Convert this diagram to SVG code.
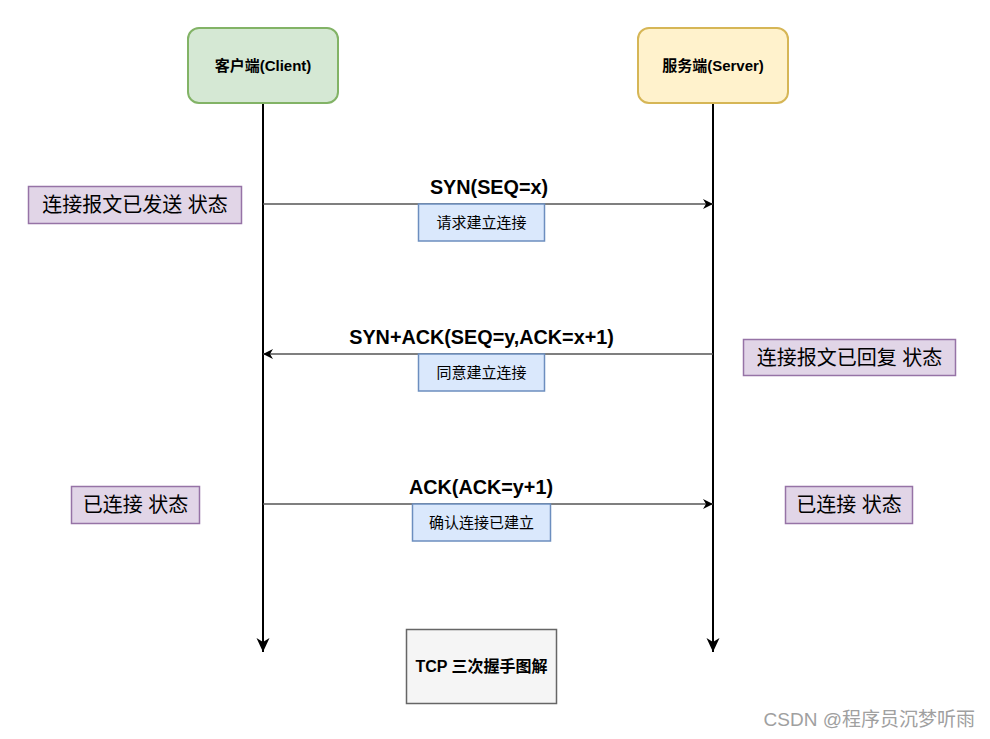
<svg xmlns="http://www.w3.org/2000/svg" width="990" height="739" viewBox="0 0 990 739">
<defs>
<marker id="ah" markerWidth="12" markerHeight="12" viewBox="0 0 12 12" refX="11" refY="6" orient="auto" markerUnits="userSpaceOnUse">
<path d="M1,1 L11,6 L1,11 L4,6 Z" fill="#000"/>
</marker>
<marker id="ahl" markerWidth="16" markerHeight="16" viewBox="0 0 16 16" refX="15" refY="8" orient="auto" markerUnits="userSpaceOnUse">
<path d="M1,1.5 L15,8 L1,14.5 L5,8 Z" fill="#000"/>
</marker>
</defs>
<style>
text{font-family:"Liberation Sans","Noto Sans CJK SC",Arial,sans-serif;}
.b{font-weight:bold;}
.state rect{fill:#e1d5e7;stroke:#9673a6;stroke-width:1.5;}
.state text{font-size:20px;fill:#000;}
.note rect{fill:#dae8fc;stroke:#6c8ebf;stroke-width:1.5;}
.note text{font-size:15px;fill:#000;}
.msg{stroke:#555;stroke-width:1.5;fill:none;}
.life{stroke:#000;stroke-width:2;fill:none;}
.lbl{font-size:19.8px;font-weight:bold;}
</style>
<rect width="990" height="739" fill="#fff"/>
<g id="connectors">
<line class="life" x1="263" y1="104" x2="263" y2="652" marker-end="url(#ahl)"/>
<line class="life" x1="713" y1="104" x2="713" y2="652" marker-end="url(#ahl)"/>
<line class="msg" x1="263" y1="204" x2="713" y2="204" marker-end="url(#ah)"/>
<line class="msg" x1="713" y1="354" x2="263" y2="354" marker-end="url(#ah)"/>
<line class="msg" x1="263" y1="504" x2="713" y2="504" marker-end="url(#ah)"/>
<text class="lbl" x="489" y="194" text-anchor="middle">SYN(SEQ=x)</text>
<text class="lbl" x="481.500" y="344" text-anchor="middle">SYN+ACK(SEQ=y,ACK=x+1)</text>
<text class="lbl" x="481" y="494" text-anchor="middle">ACK(ACK=y+1)</text>
</g>
<g id="client">
<rect x="188" y="28" width="150" height="75" rx="11" fill="#d5e8d4" stroke="#82b366" stroke-width="2"/>
<text class="b" x="263" y="71" font-size="15" text-anchor="middle">客户端(Client)</text>
</g>
<g id="server">
<rect x="638" y="28" width="150" height="75" rx="11" fill="#fff2cc" stroke="#d6b656" stroke-width="2"/>
<text class="b" x="713" y="71" font-size="15" text-anchor="middle">服务端(Server)</text>
</g>
<g id="note1" class="note">
<rect x="418.500" y="204" width="126" height="37"/>
<text x="481.500" y="228" text-anchor="middle">请求建立连接</text>
</g>
<g id="note2" class="note">
<rect x="418.500" y="354" width="126" height="37"/>
<text x="481.500" y="378" text-anchor="middle">同意建立连接</text>
</g>
<g id="note3" class="note">
<rect x="412.500" y="504" width="138" height="37"/>
<text x="481.500" y="528" text-anchor="middle">确认连接已建立</text>
</g>
<g id="state1" class="state">
<rect x="28.500" y="186.500" width="213" height="37"/>
<text x="135" y="212" text-anchor="middle">连接报文已发送 状态</text>
</g>
<g id="state2" class="state">
<rect x="743.500" y="339.500" width="212" height="36"/>
<text x="849.500" y="364.500" text-anchor="middle">连接报文已回复 状态</text>
</g>
<g id="state3" class="state">
<rect x="71.500" y="486.500" width="128" height="37"/>
<text x="135.500" y="512" text-anchor="middle">已连接 状态</text>
</g>
<g id="state4" class="state">
<rect x="785.500" y="486.500" width="127" height="37"/>
<text x="849" y="512" text-anchor="middle">已连接 状态</text>
</g>
<g id="title">
<rect x="406.500" y="629.500" width="150" height="74" fill="#f5f5f5" stroke="#666" stroke-width="1.5"/>
<text class="b" x="481.500" y="671.500" font-size="16" text-anchor="middle">TCP 三次握手图解</text>
</g>
<text x="975" y="726" font-size="19" fill="#a0a0a0" text-anchor="end">CSDN @程序员沉梦听雨</text>
</svg>
